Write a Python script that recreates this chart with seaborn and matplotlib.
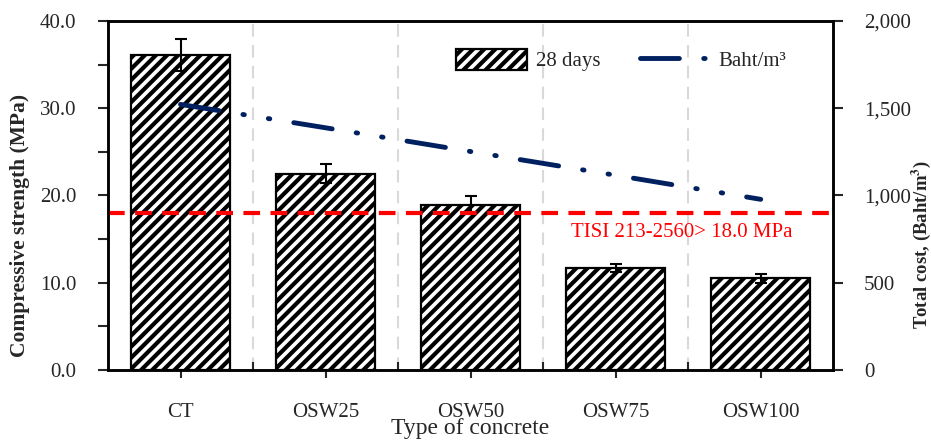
# compressive strength vs total cost chart
import numpy as np
import pandas as pd
import matplotlib
matplotlib.use('Agg')
import matplotlib.pyplot as plt
import seaborn as sns
from matplotlib.ticker import FuncFormatter, MultipleLocator, FixedLocator

# data
concrete = ['CT', 'OSW25', 'OSW50', 'OSW75', 'OSW100']
strength_28d = [36.1, 22.5, 18.9, 11.7, 10.5]
strength_err = [1.8, 1.1, 1.0, 0.5, 0.5]
cost_baht = [1522, 1388, 1252, 1116, 978]
tisi_limit = 18.0

sns.set_style('white')
plt.rcParams['font.family'] = ['Liberation Serif', 'DejaVu Serif']
plt.rcParams['hatch.linewidth'] = 3.0
plt.rcParams['mathtext.fontset'] = 'stix'

df = pd.DataFrame({'concrete': concrete, 'strength': strength_28d, 'err': strength_err, 'cost': cost_baht})

fig = plt.figure(figsize=(9.31, 4.44), dpi=100)
ax = fig.add_axes([0.116, 0.1667, 0.779, 0.786])

sns.barplot(data=df, x='concrete', y='strength', ax=ax, color='white', edgecolor='black',
            linewidth=1.6, hatch='///', width=0.68, errorbar=None, label='28 days', zorder=2)
pos = np.arange(len(concrete))
ax.errorbar(pos, df['strength'], yerr=df['err'], fmt='none', ecolor='black',
            elinewidth=1.5, capsize=4.5, capthick=1.5, zorder=3)

ax.axhline(tisi_limit, color='red', lw=3, ls=(0, (4, 2.5)), zorder=4)
ax.text(4.22, 15.8, 'TISI 213-2560> 18.0 MPa', color='red', fontsize=15, ha='right', va='center')

ax.set_xlim(-0.5, 4.5)
ax.set_ylim(0, 40)
ax.yaxis.set_major_locator(MultipleLocator(10))
ax.yaxis.set_minor_locator(MultipleLocator(5))
ax.yaxis.set_major_formatter(FuncFormatter(lambda v, p: f'{v:.1f}'))
ax.xaxis.set_minor_locator(FixedLocator([0.5, 1.5, 2.5, 3.5]))
ax.grid(False)
ax.grid(which='minor', axis='x', color='#d9d9d9', lw=1.5, ls=(0, (6, 4)), zorder=0)
ax.tick_params(axis='y', which='both', direction='out', length=7, width=1.5, labelsize=15, left=True, pad=16)
ax.tick_params(axis='x', which='major', direction='out', length=6, width=1.5, labelsize=15, pad=18, bottom=True)
ax.tick_params(axis='x', which='minor', direction='in', length=6, width=1.5, bottom=True)
for s in ax.spines.values():
    s.set_linewidth(1.8)
    s.set_color('black')
ax.set_xlabel('Type of concrete', fontsize=17, labelpad=-3)
ax.set_ylabel('Compressive strength (MPa)', fontsize=15.5, fontweight='bold')
ax.yaxis.set_label_coords(-0.108, 0.415)

ax2 = ax.twinx()
sns.lineplot(x=pos, y=cost_baht, ax=ax2, color='#002060', lw=3.5, label='Baht/m³',
             dashes=False, legend=False)
ax2.lines[0].set_linestyle((0, (8, 5, 0.3, 5, 0.3, 5)))
ax2.lines[0].set_dash_capstyle('round')
ax2.set_ylim(0, 2000)
ax2.yaxis.set_major_locator(MultipleLocator(500))
ax2.yaxis.set_major_formatter(FuncFormatter(lambda v, p: f'{v:,.0f}'))
ax2.tick_params(axis='y', direction='out', length=7, width=1.5, labelsize=15, right=True, pad=15)
ax2.set_ylabel('Total cost, (Baht/m$^\\mathbf{3}$)', fontsize=13.5, fontweight='bold')
ax2.yaxis.set_label_coords(1.105, 0.36)
for s in ax2.spines.values():
    s.set_linewidth(1.8)
    s.set_color('black')

h1, l1 = ax.get_legend_handles_labels()
h2, l2 = ax2.get_legend_handles_labels()
if ax.get_legend():
    ax.get_legend().remove()
ax2.legend(h1 + h2, l1 + l2, loc='center', bbox_to_anchor=(0.708, 0.888), ncol=2, frameon=False,
           fontsize=15, handlelength=3.4, handleheight=1.2, columnspacing=1.9, handletextpad=0.4)

fig.savefig('out.png', dpi=100)
